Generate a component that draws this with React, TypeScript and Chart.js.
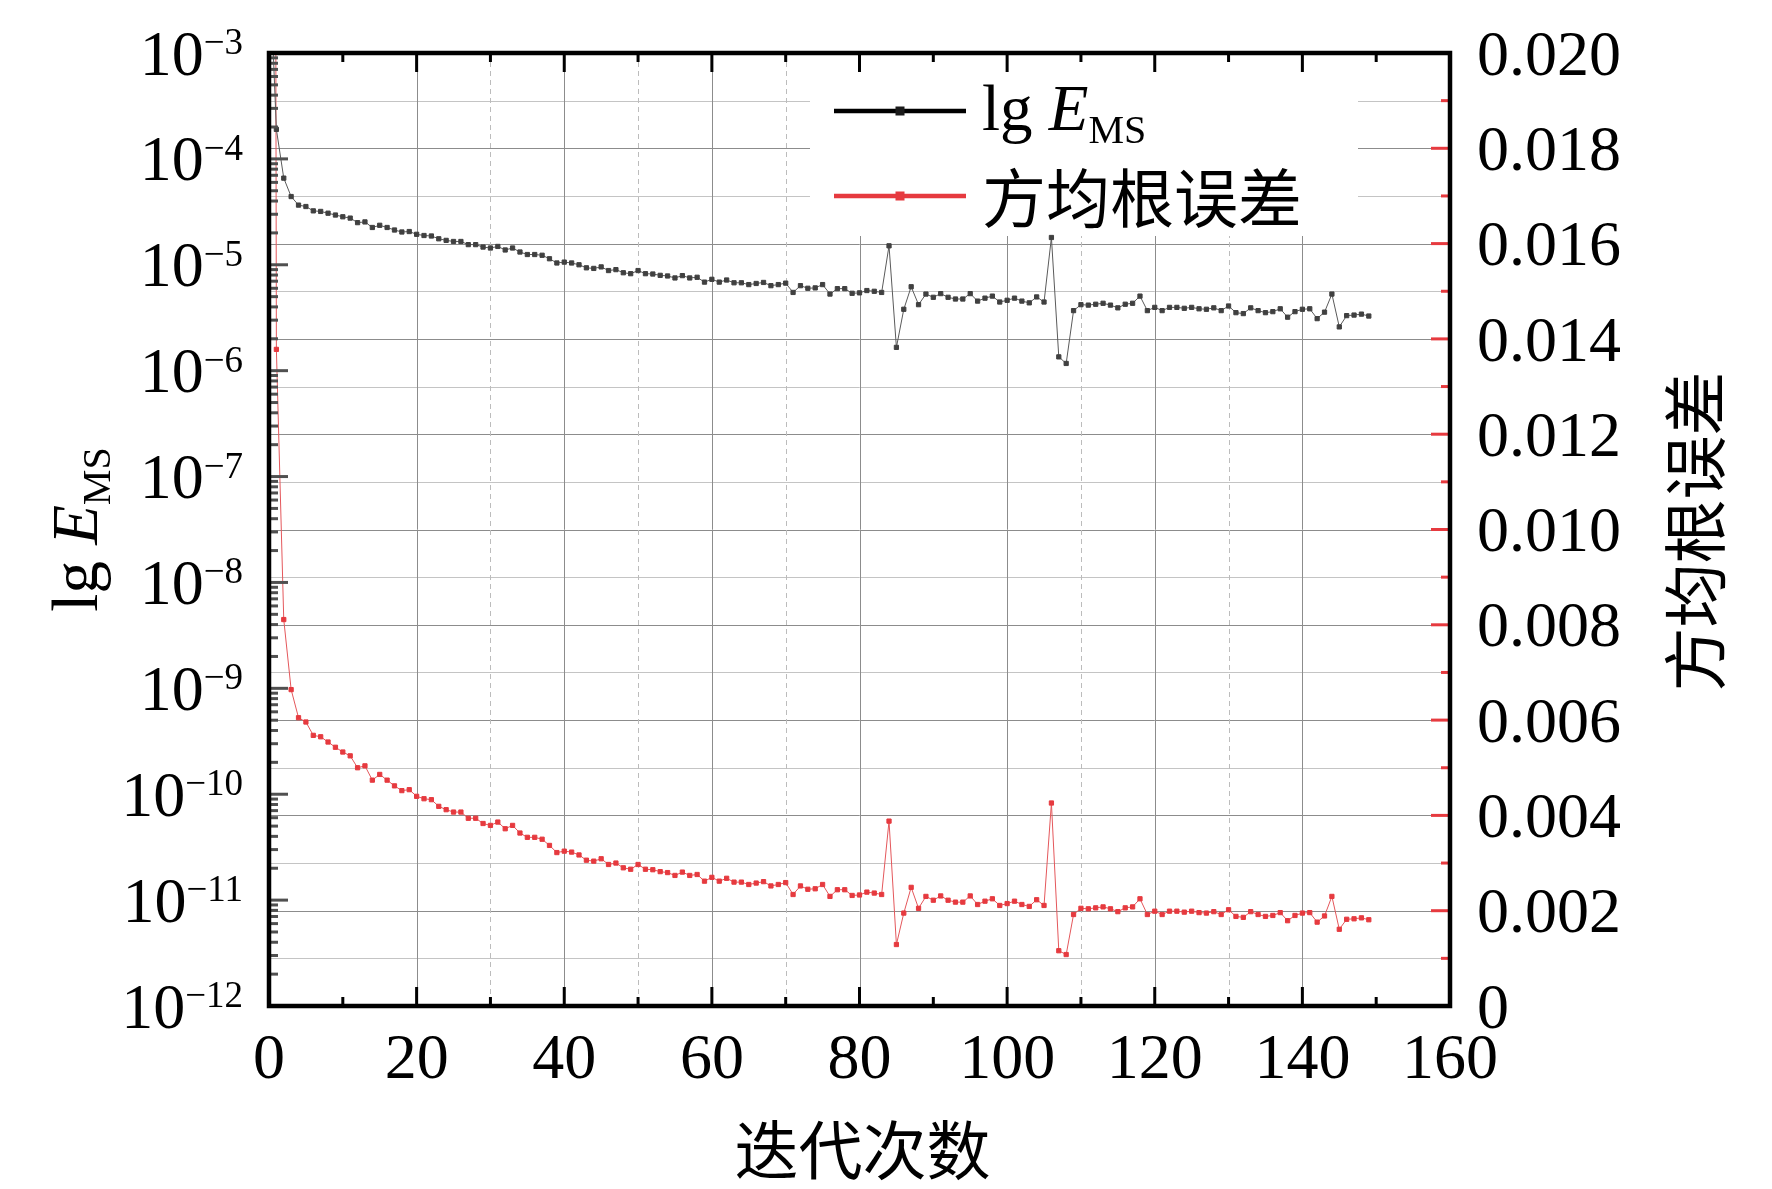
import React, { useEffect, useRef } from 'react';
import { Chart, registerables } from 'chart.js';
import type { ChartConfiguration, Plugin } from 'chart.js';

Chart.register(...registerables);

// root-mean-square error per iteration (right axis)
const rmseValues = [
  0.1, 0.01378, 0.00811, 0.00664, 0.00605, 0.00596, 0.00568, 0.00565, 0.00554, 0.00543,
  0.00533, 0.00525, 0.005, 0.00504, 0.00474, 0.00486, 0.00474, 0.00462, 0.00452, 0.00454,
  0.0044, 0.00435, 0.00433, 0.00419, 0.00412, 0.00407, 0.00407, 0.00394, 0.00394, 0.00383,
  0.00379, 0.00386, 0.00372, 0.00379, 0.00363, 0.00354, 0.00354, 0.0035, 0.00337, 0.00322,
  0.00325, 0.00323, 0.00317, 0.00306, 0.00304, 0.00309, 0.00297, 0.003, 0.0029, 0.00287,
  0.00297, 0.00287, 0.00286, 0.00282, 0.0028, 0.00274, 0.00281, 0.00274, 0.00276, 0.00262,
  0.0027, 0.00262, 0.00268, 0.0026, 0.0026, 0.00255, 0.00258, 0.00261, 0.00252, 0.00255,
  0.00259, 0.00234, 0.00252, 0.00245, 0.00246, 0.00255, 0.0023, 0.00244, 0.00244, 0.00232,
  0.00233, 0.00239, 0.00237, 0.00234, 0.00388, 0.00129, 0.00195, 0.00249, 0.00205, 0.0023,
  0.00222, 0.00231, 0.00222, 0.00218, 0.00218, 0.00231, 0.00213, 0.0022, 0.00225, 0.00211,
  0.00215, 0.0022, 0.00213, 0.00209, 0.00223, 0.00211, 0.00426, 0.00116, 0.00108, 0.00192,
  0.00205, 0.00204, 0.00206, 0.00208, 0.00204, 0.00198, 0.00206, 0.00208, 0.00225, 0.00192,
  0.00199, 0.00192, 0.00199, 0.00199, 0.00197, 0.00199, 0.00196, 0.00195, 0.00198, 0.00192,
  0.00202, 0.00188, 0.00186, 0.00198, 0.00192, 0.00188, 0.0019, 0.00196, 0.00179, 0.0019,
  0.00195, 0.00196, 0.00176, 0.00189, 0.0023, 0.00161, 0.00182, 0.00183, 0.00185, 0.00181,
];

// mean-square error per iteration (left log axis)
const mseValues = [
  10000e-6, 190e-6, 65.8e-6, 44.1e-6, 36.6e-6, 35.5e-6, 32.3e-6, 31.9e-6, 30.7e-6, 29.5e-6,
  28.4e-6, 27.6e-6, 25.0e-6, 25.4e-6, 22.5e-6, 23.6e-6, 22.5e-6, 21.3e-6, 20.4e-6, 20.6e-6,
  19.4e-6, 18.9e-6, 18.7e-6, 17.6e-6, 17.0e-6, 16.6e-6, 16.6e-6, 15.5e-6, 15.5e-6, 14.7e-6,
  14.4e-6, 14.9e-6, 13.8e-6, 14.4e-6, 13.2e-6, 12.5e-6, 12.5e-6, 12.3e-6, 11.4e-6, 10.4e-6,
  10.6e-6, 10.4e-6, 10.0e-6, 9.36e-6, 9.24e-6, 9.55e-6, 8.82e-6, 9.0e-6, 8.41e-6, 8.24e-6,
  8.82e-6, 8.24e-6, 8.18e-6, 7.95e-6, 7.84e-6, 7.51e-6, 7.9e-6, 7.51e-6, 7.62e-6, 6.86e-6,
  7.29e-6, 6.86e-6, 7.18e-6, 6.76e-6, 6.76e-6, 6.5e-6, 6.66e-6, 6.81e-6, 6.35e-6, 6.5e-6,
  6.71e-6, 5.48e-6, 6.35e-6, 6.0e-6, 6.05e-6, 6.5e-6, 5.29e-6, 5.95e-6, 5.95e-6, 5.38e-6,
  5.43e-6, 5.71e-6, 5.62e-6, 5.48e-6, 15.1e-6, 1.66e-6, 3.8e-6, 6.2e-6, 4.2e-6, 5.29e-6,
  4.93e-6, 5.34e-6, 4.93e-6, 4.75e-6, 4.75e-6, 5.34e-6, 4.54e-6, 4.84e-6, 5.06e-6, 4.45e-6,
  4.62e-6, 4.84e-6, 4.54e-6, 4.37e-6, 4.97e-6, 4.45e-6, 18.1e-6, 1.35e-6, 1.17e-6, 3.69e-6,
  4.2e-6, 4.16e-6, 4.24e-6, 4.33e-6, 4.16e-6, 3.92e-6, 4.24e-6, 4.33e-6, 5.06e-6, 3.69e-6,
  3.96e-6, 3.69e-6, 3.96e-6, 3.96e-6, 3.88e-6, 3.96e-6, 3.84e-6, 3.8e-6, 3.92e-6, 3.69e-6,
  4.08e-6, 3.53e-6, 3.46e-6, 3.92e-6, 3.69e-6, 3.53e-6, 3.61e-6, 3.84e-6, 3.2e-6, 3.61e-6,
  3.8e-6, 3.84e-6, 3.1e-6, 3.57e-6, 5.29e-6, 2.59e-6, 3.31e-6, 3.35e-6, 3.42e-6, 3.28e-6,
];

const iterations = rmseValues.map((_, i) => i);

const xTicks = [0, 20, 40, 60, 80, 100, 120, 140, 160];
const xMinorTicks = [10, 30, 50, 70, 90, 110, 130, 150];
const xDashedGrid = [30, 50, 70, 110, 130];
const leftExponents = [-3, -4, -5, -6, -7, -8, -9, -10, -11, -12];
const leftMantissas = [2, 3, 4, 5, 6, 7, 8, 9];
const rightTicks = [0, 0.002, 0.004, 0.006, 0.008, 0.01, 0.012, 0.014, 0.016, 0.018, 0.02];
const rightMinorTicks = [0.001, 0.003, 0.005, 0.007, 0.009, 0.011, 0.013, 0.015, 0.017, 0.019];

const xTitle = '迭代次数';
const rightTitle = '方均根误差';
const seriesNames = ['lg E_MS', '方均根误差'];

const W = 1772;
const H = 1189;
const SERIF = '"Liberation Serif", "Times New Roman", serif';
const CJK = '"Noto Sans CJK SC", sans-serif';
const RED = '#e63a3f';

type Run = { text: string; font: string; dy?: number };

// "lg E_MS" with italic E and subscript MS
const emsRuns = (size: number): Run[] => [
  { text: 'lg ', font: `${size}px ${SERIF}` },
  { text: 'E', font: `italic ${size}px ${SERIF}` },
  { text: 'MS', font: `${Math.round(size * 0.61)}px ${SERIF}`, dy: 13 },
];

function drawRuns(ctx: CanvasRenderingContext2D, runs: Run[], x: number, y: number, center: boolean) {
  let total = 0;
  runs.forEach((r) => {
    ctx.font = r.font;
    total += ctx.measureText(r.text).width;
  });
  let cx = center ? x - total / 2 : x;
  ctx.textAlign = 'left';
  ctx.textBaseline = 'alphabetic';
  runs.forEach((r) => {
    ctx.font = r.font;
    ctx.fillText(r.text, cx, y + (r.dy ?? 0));
    cx += ctx.measureText(r.text).width;
  });
}

const decor: Plugin<'line'> = {
  id: 'decor',
  beforeDatasetsDraw(chart) {
    const { ctx, chartArea: a } = chart;
    const xs = chart.scales.x;
    const y1 = chart.scales.y1;
    ctx.save();
    ctx.lineWidth = 1;
    const hline = (v: number, color: string) => {
      const py = Math.round(y1.getPixelForValue(v)) + 0.5;
      ctx.strokeStyle = color;
      ctx.beginPath();
      ctx.moveTo(a.left, py);
      ctx.lineTo(a.right, py);
      ctx.stroke();
    };
    const vline = (v: number, color: string) => {
      const px = Math.round(xs.getPixelForValue(v)) + 0.5;
      ctx.strokeStyle = color;
      ctx.beginPath();
      ctx.moveTo(px, a.top);
      ctx.lineTo(px, a.bottom);
      ctx.stroke();
    };
    rightMinorTicks.forEach((v) => hline(v, '#c4c4c4'));
    rightTicks.filter((v) => v > 0 && v < 0.02).forEach((v) => hline(v, '#8c8c8c'));
    xTicks.filter((v) => v > 0 && v < 160).forEach((v) => vline(v, '#8c8c8c'));
    ctx.setLineDash([5, 4]);
    xDashedGrid.forEach((v) => vline(v, '#bcbcbc'));
    ctx.setLineDash([]);
    // legend background hides the grid behind it
    ctx.fillStyle = '#ffffff';
    ctx.fillRect(810, a.top + 2, 548, 236 - a.top - 2);
    ctx.restore();
  },
  afterDraw(chart) {
    const { ctx, chartArea: a } = chart;
    const xs = chart.scales.x;
    const y = chart.scales.y;
    const y1 = chart.scales.y1;
    ctx.save();
    ctx.lineCap = 'butt';
    ctx.lineWidth = 3;

    // bottom & top ticks (inward)
    ctx.strokeStyle = '#000';
    const xTick = (v: number, len: number) => {
      const px = xs.getPixelForValue(v);
      ctx.beginPath();
      ctx.moveTo(px, a.bottom);
      ctx.lineTo(px, a.bottom - len);
      ctx.moveTo(px, a.top);
      ctx.lineTo(px, a.top + len);
      ctx.stroke();
    };
    xTicks.forEach((v) => xTick(v, 19));
    xMinorTicks.forEach((v) => xTick(v, 9));

    // left log ticks
    ctx.strokeStyle = '#505050';
    const lTick = (v: number, len: number) => {
      const py = y.getPixelForValue(v);
      ctx.beginPath();
      ctx.moveTo(a.left, py);
      ctx.lineTo(a.left + len, py);
      ctx.stroke();
    };
    leftExponents.forEach((e) => lTick(Math.pow(10, e), 19));
    leftExponents.slice(1).forEach((e) => {
      leftMantissas.forEach((m) => lTick(m * Math.pow(10, e), 9));
    });

    // right ticks (red)
    ctx.strokeStyle = RED;
    const rTick = (v: number, len: number) => {
      const py = y1.getPixelForValue(v);
      ctx.beginPath();
      ctx.moveTo(a.right, py);
      ctx.lineTo(a.right - len, py);
      ctx.stroke();
    };
    rightTicks.forEach((v) => rTick(v, 19));
    rightMinorTicks.forEach((v) => rTick(v, 9));

    // frame
    ctx.strokeStyle = '#000';
    ctx.lineWidth = 4.5;
    ctx.strokeRect(a.left, a.top, a.right - a.left, a.bottom - a.top);

    ctx.fillStyle = '#000';
    // bottom tick labels
    ctx.font = `64px ${SERIF}`;
    ctx.textAlign = 'center';
    ctx.textBaseline = 'alphabetic';
    xTicks.forEach((v) => ctx.fillText(String(v), xs.getPixelForValue(v), a.bottom + 72));

    // right tick labels
    ctx.textAlign = 'left';
    rightTicks.forEach((v) => {
      const label = v === 0 ? '0' : v.toFixed(3);
      ctx.fillText(label, a.right + 27, y1.getPixelForValue(v) + 21.6);
    });

    // left tick labels 10^e
    const baseFont = `64px ${SERIF}`;
    const supFont = `37px ${SERIF}`;
    leftExponents.forEach((e) => {
      const py = y.getPixelForValue(Math.pow(10, e));
      const sup = '\u2212' + Math.abs(e);
      ctx.font = supFont;
      const wSup = ctx.measureText(sup).width;
      ctx.font = baseFont;
      const wBase = ctx.measureText('10').width;
      const right = a.left - 26;
      ctx.fillText('10', right - wSup - wBase, py + 21.6);
      ctx.font = supFont;
      ctx.fillText(sup, right - wSup, py + 1);
    });

    // left title
    ctx.save();
    ctx.translate(97, (a.top + a.bottom) / 2);
    ctx.rotate(-Math.PI / 2);
    drawRuns(ctx, emsRuns(65), 0, 0, true);
    ctx.restore();

    // right title
    ctx.save();
    ctx.translate(1695, (a.top + a.bottom) / 2 + 2);
    ctx.rotate(-Math.PI / 2);
    ctx.font = `64px ${CJK}`;
    ctx.textAlign = 'center';
    ctx.textBaseline = 'middle';
    ctx.fillText(rightTitle, 0, 0);
    ctx.restore();

    // bottom title
    ctx.font = `64px ${CJK}`;
    ctx.textAlign = 'center';
    ctx.textBaseline = 'middle';
    ctx.fillText(xTitle, (a.left + a.right) / 2 + 3, 1150);

    // legend
    const legendRows = [
      { color: '#000000', marker: '#1a1a1a', y: 111 },
      { color: RED, marker: RED, y: 196 },
    ];
    legendRows.forEach((row, i) => {
      ctx.strokeStyle = row.color;
      ctx.lineWidth = 4.5;
      ctx.beginPath();
      ctx.moveTo(834, row.y);
      ctx.lineTo(966, row.y);
      ctx.stroke();
      ctx.fillStyle = row.marker;
      ctx.fillRect(900 - 4.5, row.y - 4.5, 9, 9);
      ctx.fillStyle = '#000';
      if (i === 0) {
        drawRuns(ctx, emsRuns(65), 982, 130, false);
      } else {
        ctx.font = `64px ${CJK}`;
        ctx.textAlign = 'left';
        ctx.textBaseline = 'middle';
        ctx.fillText(seriesNames[1], 982, 198);
      }
    });
    ctx.restore();
  },
};

const App: React.FC = () => {
  const canvasRef = useRef<HTMLCanvasElement>(null);

  useEffect(() => {
    document.body.style.margin = '0';
    const ctx = canvasRef.current?.getContext('2d');
    if (!ctx) return;

    const config: ChartConfiguration<'line'> = {
      type: 'line',
      data: {
        datasets: [
          {
            label: seriesNames[0],
            data: iterations.map((it, i) => ({ x: it, y: mseValues[i] })),
            yAxisID: 'y',
            borderColor: '#5a5a5a',
            borderWidth: 1,
            pointStyle: 'rect',
            pointRadius: 3,
            pointBackgroundColor: '#404040',
            pointBorderColor: '#404040',
            pointBorderWidth: 1,
            tension: 0,
          },
          {
            label: seriesNames[1],
            data: iterations.map((it, i) => ({ x: it, y: rmseValues[i] })),
            yAxisID: 'y1',
            borderColor: '#e4575b',
            borderWidth: 1,
            pointStyle: 'rect',
            pointRadius: 3,
            pointBackgroundColor: RED,
            pointBorderColor: RED,
            pointBorderWidth: 1,
            tension: 0,
          },
        ],
      },
      options: {
        responsive: false,
        animation: false,
        devicePixelRatio: 1,
        events: [],
        layout: { padding: { left: 269, right: 322, top: 53, bottom: 183 } },
        plugins: {
          legend: { display: false },
          tooltip: { enabled: false },
        },
        scales: {
          x: { type: 'linear', display: false, min: 0, max: 160 },
          y: { type: 'logarithmic', display: false, min: 1e-12, max: 1e-3 },
          y1: { type: 'linear', display: false, min: 0, max: 0.02 },
        },
      },
      plugins: [decor],
    };

    const chart = new Chart(ctx, config);
    return () => {
      chart.destroy();
    };
  }, []);

  return (
    <div style={{ position: 'absolute', left: 0, top: 0, width: W, height: H, background: '#fff' }}>
      <canvas ref={canvasRef} width={W} height={H} style={{ width: W, height: H }} />
    </div>
  );
};

export default App;
